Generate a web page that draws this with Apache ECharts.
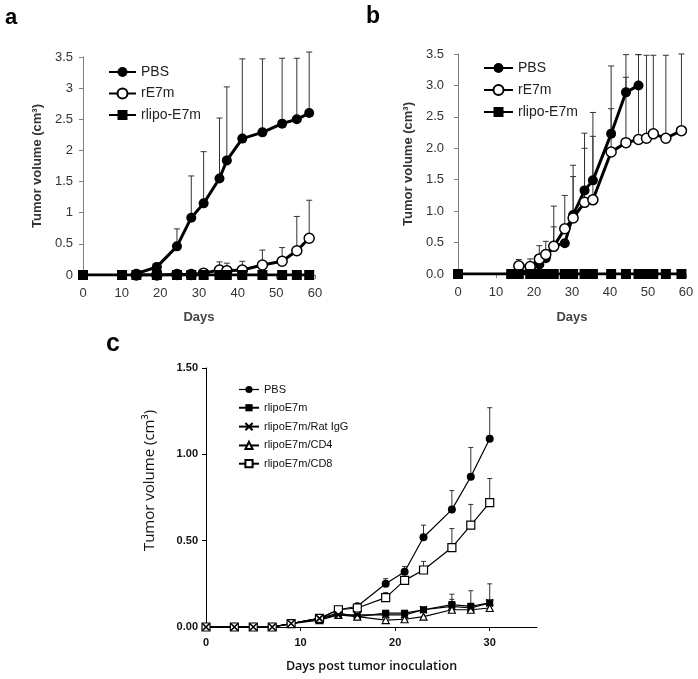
<!DOCTYPE html>
<html><head><meta charset="utf-8">
<script src="https://cdn.jsdelivr.net/npm/echarts@6/dist/echarts.min.js"></script>
<style>html,body{margin:0;padding:0;background:#fff}#c{width:698px;height:679px}</style>
</head><body><div id="c"></div>
<script>
// ---------- Panel a ----------
const namesAB = ['PBS', 'rE7m', 'rlipo-E7m'];
const daysA = [0, 10.1, 13.8, 19.1, 24.3, 28, 31.2, 35.3, 37.2, 41.2, 46.4, 51.5, 55.3, 58.5];
const pbsA = [null, null, 0.02, 0.13, 0.46, 0.92, 1.15, 1.55, 1.84, 2.19, 2.29, 2.43, 2.5, 2.6];
const pbsAErr = [null, null, null, null, 0.74, 1.59, 1.98, 2.52, 3.02, 3.47, 3.47, 3.48, 3.48, 3.58];
const re7mA = [null, null, 0, 0, 0.01, 0.01, 0.03, 0.08, 0.07, 0.08, 0.16, 0.22, 0.39, 0.59];
const re7mAErr = [null, null, null, null, null, null, 0.06, 0.21, 0.19, 0.22, 0.4, 0.44, 0.94, 1.2];
const rlipoA = [0, 0, 0, 0, 0, 0, 0, 0, 0, 0, 0, 0, 0, 0];

// ---------- Panel b ----------
const daysB = [0, 14, 16, 19, 21.4, 23.1, 25.2, 28.1, 30.3, 33.3, 35.5, 40.3, 44.2, 47.5, 49.6, 51.4, 54.7, 58.8];
const pbsB = [null, 0, 0.02, 0.06, 0.15, 0.25, 0.45, 0.49, 0.94, 1.33, 1.49, 2.23, 2.89, 3.0, null, null, null, null];
const pbsBErr = [null, null, null, null, null, 0.52, 0.75, null, 1.73, 2.24, 2.57, 3.31, 3.49, 3.49, null, null, null, null];
const re7mB = [null, null, 0.13, 0.12, 0.24, 0.31, 0.44, 0.72, 0.89, 1.14, 1.18, 1.94, 2.09, 2.14, 2.16, 2.23, 2.16, 2.28];
const re7mBErr = [null, null, 0.23, 0.24, 0.45, null, 1.08, 1.25, 1.55, 2.0, 2.19, 2.63, 3.13, 3.49, 3.48, 3.48, 3.48, 3.5];
const rlipoB = [0, 0, 0, 0, 0, 0, 0, 0, 0, 0, 0, 0, 0, 0, 0, 0, 0, 0];

// ---------- Panel c ----------
const namesC = ['PBS', 'rlipoE7m', 'rlipoE7m/Rat IgG', 'rlipoE7m/CD4', 'rlipoE7m/CD8'];
const daysC = [0, 3, 5, 7, 9, 12, 14, 16, 19, 21, 23, 26, 28, 30];
const pbsC = [0, 0, 0, 0, 0.02, 0.05, 0.1, 0.12, 0.25, 0.32, 0.52, 0.68, 0.87, 1.09];
const pbsCErr = [null, null, null, null, null, null, null, null, 0.28, 0.35, 0.59, 0.79, 1.04, 1.27];
const rlipoC = [0, 0, 0, 0, 0.02, 0.05, 0.08, 0.06, 0.08, 0.08, 0.1, 0.13, 0.12, 0.14];
const rlipoCErr = [null, null, null, null, null, null, null, null, null, null, null, 0.19, 0.21, 0.25];
const ratC = [0, 0, 0, 0, 0.02, 0.05, 0.07, 0.07, 0.07, 0.07, 0.1, 0.12, 0.11, 0.14];
const ratCErr = [null, null, null, null, null, null, null, null, null, null, null, 0.16, null, null];
const cd4C = [0, 0, 0, 0, 0.02, 0.04, 0.07, 0.06, 0.04, 0.045, 0.06, 0.1, 0.1, 0.11];
const cd8C = [0, 0, 0, 0, 0.02, 0.05, 0.1, 0.11, 0.17, 0.27, 0.33, 0.46, 0.59, 0.72];
const cd8CErr = [null, null, null, null, null, null, null, null, 0.2, 0.29, 0.38, 0.57, 0.71, 0.86];

const ticksC = [0, 10, 20, 30];

function pts(days, vals) {
  const out = [];
  days.forEach((d, i) => { if (vals[i] !== null) out.push([d, vals[i]]); });
  return out;
}
function errPts(days, vals, tops) {
  const out = [];
  days.forEach((d, i) => { if (tops[i] !== null && vals[i] !== null) out.push([d, vals[i], tops[i]]); });
  return out;
}
function errSeries(idx, data, cap, color) {
  return {
    type: 'custom', xAxisIndex: idx, yAxisIndex: idx, z: 1, silent: true,
    encode: { x: 0, y: [1, 2] },
    data: data,
    renderItem: function (params, api) {
      const p0 = api.coord([api.value(0), api.value(1)]);
      const p1 = api.coord([api.value(0), api.value(2)]);
      const st = { stroke: color, lineWidth: 1 };
      return {
        type: 'group',
        children: [
          { type: 'line', shape: { x1: p0[0], y1: p0[1], x2: p1[0], y2: p1[1] }, style: st },
          { type: 'line', shape: { x1: p1[0] - cap, y1: p1[1], x2: p1[0] + cap, y2: p1[1] }, style: st }
        ]
      };
    }
  };
}
function lineSeries(idx, name, data, symbol, size, fill, width, border) {
  return {
    type: 'line', name: name, xAxisIndex: idx, yAxisIndex: idx, z: 3,
    data: data, symbol: symbol, symbolSize: size, showSymbol: true,
    lineStyle: { color: '#000', width: width },
    itemStyle: { color: fill, borderColor: '#000', borderWidth: border },
    emphasis: { disabled: true }
  };
}

const fAB = 'Liberation Sans';
const axisLineAB = { show: true, lineStyle: { color: '#808080', width: 1 } };
const tickAB = { show: true, length: 4, lineStyle: { color: '#808080' } };

const xCommonAB = (idx, gap) => ({
  type: 'value', gridIndex: idx, min: 0, max: 60, interval: 10,
  name: 'Days', nameLocation: 'middle', nameGap: gap,
  nameTextStyle: { fontFamily: fAB, fontSize: 13, fontWeight: 'bold', color: '#444' },
  axisLine: axisLineAB, axisTick: tickAB, splitLine: { show: false },
  axisLabel: { fontFamily: fAB, fontSize: 13, color: '#333', margin: 12 }
});
const yCommonAB = (idx, gap, fmt, margin) => ({
  type: 'value', gridIndex: idx, min: 0, max: 3.5, interval: 0.5,
  name: 'Tumor volume (cm³)', nameLocation: 'middle', nameGap: gap,
  nameTextStyle: { fontFamily: fAB, fontSize: 13, fontWeight: 'bold', color: '#333' },
  axisLine: axisLineAB, axisTick: tickAB, splitLine: { show: false },
  axisLabel: { fontFamily: fAB, fontSize: 13, color: '#333', margin: margin, formatter: fmt }
});

const option = {
  animation: false,
  backgroundColor: '#fff',
  grid: [
    { left: 83, top: 57, width: 232, height: 218 },
    { left: 458, top: 54, width: 228, height: 220 },
    { left: 206, top: 368, width: 331, height: 259 }
  ],
  xAxis: [
    xCommonAB(0, 36),
    xCommonAB(1, 37),
    {
      type: 'value', gridIndex: 2, min: 0, max: 35, interval: 10,
      name: 'Days post tumor inoculation', nameLocation: 'middle', nameGap: 33,
      nameTextStyle: { fontFamily: 'Open Sans', fontSize: 12.5, fontWeight: 600, color: '#111' },
      axisLine: { show: true, lineStyle: { color: '#000', width: 1 } },
      axisTick: { show: true, length: 4, lineStyle: { color: '#000' }, customValues: ticksC },
      splitLine: { show: false },
      axisLabel: { fontFamily: fAB, fontSize: 11, fontWeight: 'bold', color: '#111', margin: 10, customValues: ticksC }
    }
  ],
  yAxis: [
    yCommonAB(0, 39, null, 10),
    yCommonAB(1, 43, v => v.toFixed(1), 14),
    {
      type: 'value', gridIndex: 2, min: 0, max: 1.5, interval: 0.5,
      name: 'Tumor volume (cm³)', nameLocation: 'middle', nameGap: 49,
      nameTextStyle: { fontFamily: 'Open Sans', fontSize: 15, color: '#111', padding: [0, 0, 0, 34] },
      axisLine: { show: true, lineStyle: { color: '#000', width: 1 } },
      axisTick: { show: true, length: 4, lineStyle: { color: '#000' } },
      splitLine: { show: false },
      axisLabel: { fontFamily: fAB, fontSize: 11, fontWeight: 'bold', color: '#111', margin: 8, formatter: v => v.toFixed(2) }
    }
  ],
  legend: [
    {
      left: 108, top: 65, padding: 0, orient: 'vertical', itemWidth: 27, itemHeight: 12.5, itemGap: 7.5,
      selectedMode: false, data: namesAB,
      textStyle: { fontFamily: fAB, fontSize: 14, color: '#222' }
    },
    {
      left: 483, top: 61, padding: 0, orient: 'vertical', itemWidth: 29, itemHeight: 12.5, itemGap: 8,
      selectedMode: false, data: namesAB,
      textStyle: { fontFamily: fAB, fontSize: 14, color: '#222' }
    },
    {
      left: 238, top: 384, padding: 0, orient: 'vertical', itemWidth: 20, itemHeight: 9, itemGap: 7.25,
      selectedMode: false,
      data: [
        { name: namesC[0], lineStyle: { width: 1.2 } },
        namesC[1], namesC[2], namesC[3], namesC[4]
      ],
      textStyle: { fontFamily: fAB, fontSize: 11, color: '#111' }
    }
  ],
  graphic: [
    { type: 'text', left: 5, top: 7, style: { text: 'a', font: 'bold 22px "Liberation Sans"', fill: '#000' } },
    { type: 'text', left: 366, top: 5, style: { text: 'b', font: 'bold 23px "Liberation Sans"', fill: '#000' } },
    { type: 'text', left: 106, top: 332, style: { text: 'c', font: 'bold 25px "Liberation Sans"', fill: '#000' } }
  ],
  series: [
    // panel a
    errSeries(0, errPts(daysA, pbsA, pbsAErr), 3, '#333'),
    errSeries(0, errPts(daysA, re7mA, re7mAErr), 3, '#333'),
    lineSeries(0, namesAB[0], pts(daysA, pbsA), 'circle', 10, '#000', 3, 0),
    lineSeries(0, namesAB[1], pts(daysA, re7mA), 'circle', 10, '#fff', 3, 1.5),
    lineSeries(0, namesAB[2], pts(daysA, rlipoA), 'rect', 10, '#000', 3, 0),
    // panel b
    errSeries(1, errPts(daysB, pbsB, pbsBErr), 3, '#333'),
    errSeries(1, errPts(daysB, re7mB, re7mBErr), 3, '#333'),
    lineSeries(1, namesAB[0], pts(daysB, pbsB), 'circle', 10, '#000', 3, 0),
    lineSeries(1, namesAB[1], pts(daysB, re7mB), 'circle', 10, '#fff', 3, 1.5),
    lineSeries(1, namesAB[2], pts(daysB, rlipoB), 'rect', 10, '#000', 3, 0),
    // panel c
    errSeries(2, errPts(daysC, pbsC, pbsCErr), 2.5, '#333'),
    errSeries(2, errPts(daysC, rlipoC, rlipoCErr), 2.5, '#333'),
    errSeries(2, errPts(daysC, ratC, ratCErr), 2.5, '#333'),
    errSeries(2, errPts(daysC, cd8C, cd8CErr), 2.5, '#333'),
    lineSeries(2, namesC[0], pts(daysC, pbsC), 'circle', 8, '#000', 1.2, 0),
    lineSeries(2, namesC[1], pts(daysC, rlipoC), 'rect', 7, '#000', 1.2, 0),
    lineSeries(2, namesC[3], pts(daysC, cd4C), 'triangle', 7, '#fff', 1.2, 1.2),
    lineSeries(2, namesC[4], pts(daysC, cd8C), 'rect', 8, '#fff', 1.2, 1.2),
    lineSeries(2, namesC[2], pts(daysC, ratC), 'path://M0,0L10,10M10,0L0,10', 7, 'none', 1.2, 1.6)
  ]
};

const chart = echarts.init(document.getElementById('c'), null, { renderer: 'canvas' });
chart.setOption(option);
</script>
</body></html>
